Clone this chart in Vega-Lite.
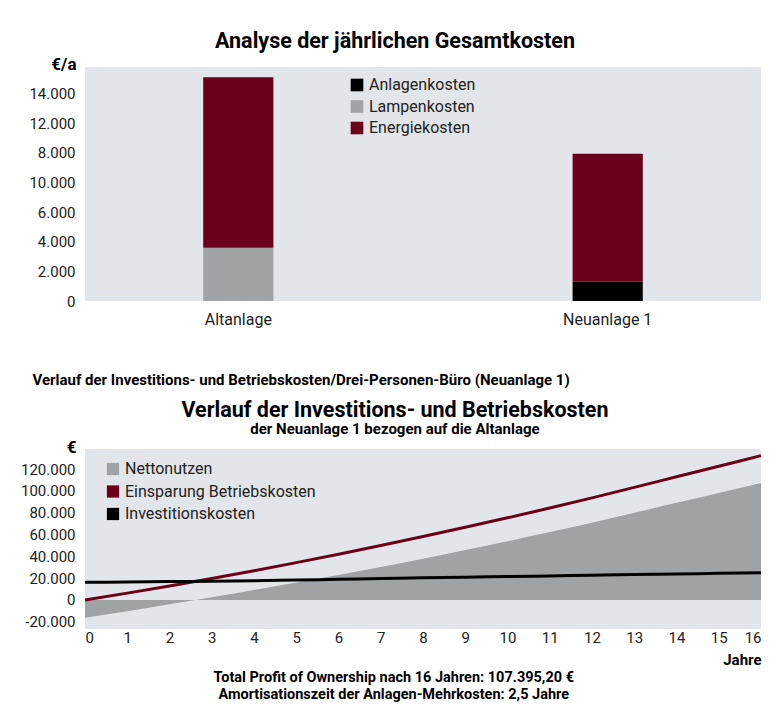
{
  "$schema": "https://vega.github.io/schema/vega-lite/v6.json",
  "background": "white",
  "padding": {"left": 20, "top": 30, "right": 14, "bottom": 4},
  "config": {
    "font": "Roboto",
    "locale": {"number": {"decimal": ",", "thousands": ".", "grouping": [3], "currency": ["", " €"], "minus": "-"}},
    "view": {"stroke": null, "fill": "#e2e5e9"},
    "axis": {"domain": false, "ticks": false, "grid": false, "labelFont": "Roboto", "labelColor": "#222", "labelFontSize": 15, "titleFont": "Roboto", "titleFontWeight": "bold", "titleColor": "#000"},
    "legend": {"labelFont": "Roboto", "labelColor": "#222", "labelFontSize": 16, "labelLimit": 400},
    "title": {"font": "Roboto", "color": "#000"}
  },
  "title": {
    "text": ["Total Profit of Ownership nach 16 Jahren: 107.395,20 €", "Amortisationszeit der Anlagen-Mehrkosten: 2,5 Jahre"],
    "orient": "bottom", "anchor": "middle", "fontSize": 14.5, "fontWeight": "bold", "lineHeight": 17, "offset": 4
  },
  "spacing": 12,
  "vconcat": [
    {
      "width": 676,
      "height": 234,
      "title": {"text": "Analyse der jährlichen Gesamtkosten", "fontSize": 21.5, "fontWeight": "bold", "anchor": "middle", "dx": -28, "offset": 3},
      "data": {"values": [
        {"anlage": "Altanlage", "kosten": "Lampenkosten", "wert": 3600},
        {"anlage": "Altanlage", "kosten": "Energiekosten", "wert": 11500},
        {"anlage": "Neuanlage 1", "kosten": "Anlagenkosten", "wert": 1300},
        {"anlage": "Neuanlage 1", "kosten": "Energiekosten", "wert": 8650}
      ]},
      "mark": {"type": "bar"},
      "encoding": {
        "x": {"field": "anlage", "type": "nominal", "sort": ["Altanlage", "Neuanlage 1"],
          "scale": {"paddingInner": 0.81, "paddingOuter": 0.32},
          "axis": {"labelAngle": 0, "labelFontSize": 16, "labelPadding": 10,
            "title": "Verlauf der Investitions- und Betriebskosten/Drei-Personen-Büro (Neuanlage 1)",
            "titleFontSize": 15, "titleAnchor": "start", "titleAlign": "left", "titleBaseline": "alphabetic", "titleX": -53, "titleY": 83}},
        "y": {"field": "wert", "type": "quantitative", "stack": "zero",
          "scale": {"domain": [0, 15800], "nice": false},
          "axis": {"values": [0, 2000, 4000, 6000, 8000, 10000, 12000, 14000], "format": ",d",
            "labelExpr": "datum.value == 8000 ? '10.000' : datum.value == 10000 ? '8.000' : datum.label",
            "labelPadding": 10, "title": "€/a", "titleAngle": 0, "titleAlign": "right", "titleBaseline": "alphabetic", "titleX": -9, "titleY": 2, "titleFontSize": 17}},
        "order": {"field": "wert", "type": "quantitative", "sort": "ascending"},
        "color": {"field": "kosten", "type": "nominal", "sort": ["Anlagenkosten", "Lampenkosten", "Energiekosten"],
          "scale": {"domain": ["Anlagenkosten", "Lampenkosten", "Energiekosten"], "range": ["#000000", "#a0a4a7", "#6b001a"]},
          "legend": {"title": null, "orient": "none", "legendX": 264, "legendY": 10, "symbolType": "square", "symbolSize": 160, "symbolStrokeWidth": 0, "labelOffset": 4, "rowPadding": 5.5}}
      }
    },
    {
      "width": 676,
      "height": 180,
      "title": {"text": "Verlauf der Investitions- und Betriebskosten", "subtitle": "der Neuanlage 1 bezogen auf die Altanlage",
        "fontSize": 21.5, "fontWeight": "bold", "subtitleFontSize": 15, "subtitleFontWeight": "bold", "subtitleColor": "#000", "subtitleFont": "Roboto", "subtitlePadding": 1,
        "anchor": "middle", "dx": -28, "offset": 1},
      "data": {"values": [
        {"jahr": 0, "reihe": "Nettonutzen", "wert": -16200},
        {"jahr": 1, "reihe": "Nettonutzen", "wert": -10250},
        {"jahr": 2, "reihe": "Nettonutzen", "wert": -4000},
        {"jahr": 3, "reihe": "Nettonutzen", "wert": 2550},
        {"jahr": 4, "reihe": "Nettonutzen", "wert": 9250},
        {"jahr": 5, "reihe": "Nettonutzen", "wert": 16000},
        {"jahr": 6, "reihe": "Nettonutzen", "wert": 23000},
        {"jahr": 7, "reihe": "Nettonutzen", "wert": 30300},
        {"jahr": 8, "reihe": "Nettonutzen", "wert": 37800},
        {"jahr": 9, "reihe": "Nettonutzen", "wert": 45800},
        {"jahr": 10, "reihe": "Nettonutzen", "wert": 53900},
        {"jahr": 11, "reihe": "Nettonutzen", "wert": 62300},
        {"jahr": 12, "reihe": "Nettonutzen", "wert": 70900},
        {"jahr": 13, "reihe": "Nettonutzen", "wert": 79950},
        {"jahr": 14, "reihe": "Nettonutzen", "wert": 89100},
        {"jahr": 15, "reihe": "Nettonutzen", "wert": 98250},
        {"jahr": 16, "reihe": "Nettonutzen", "wert": 107400},
        {"jahr": 0, "reihe": "Einsparung Betriebskosten", "wert": 0},
        {"jahr": 1, "reihe": "Einsparung Betriebskosten", "wert": 6300},
        {"jahr": 2, "reihe": "Einsparung Betriebskosten", "wert": 12900},
        {"jahr": 3, "reihe": "Einsparung Betriebskosten", "wert": 19800},
        {"jahr": 4, "reihe": "Einsparung Betriebskosten", "wert": 26900},
        {"jahr": 5, "reihe": "Einsparung Betriebskosten", "wert": 34300},
        {"jahr": 6, "reihe": "Einsparung Betriebskosten", "wert": 42000},
        {"jahr": 7, "reihe": "Einsparung Betriebskosten", "wert": 50000},
        {"jahr": 8, "reihe": "Einsparung Betriebskosten", "wert": 58200},
        {"jahr": 9, "reihe": "Einsparung Betriebskosten", "wert": 66700},
        {"jahr": 10, "reihe": "Einsparung Betriebskosten", "wert": 75400},
        {"jahr": 11, "reihe": "Einsparung Betriebskosten", "wert": 84400},
        {"jahr": 12, "reihe": "Einsparung Betriebskosten", "wert": 93700},
        {"jahr": 13, "reihe": "Einsparung Betriebskosten", "wert": 103300},
        {"jahr": 14, "reihe": "Einsparung Betriebskosten", "wert": 113000},
        {"jahr": 15, "reihe": "Einsparung Betriebskosten", "wert": 122700},
        {"jahr": 16, "reihe": "Einsparung Betriebskosten", "wert": 132400},
        {"jahr": 0, "reihe": "Investitionskosten", "wert": 16200},
        {"jahr": 1, "reihe": "Investitionskosten", "wert": 16550},
        {"jahr": 2, "reihe": "Investitionskosten", "wert": 16900},
        {"jahr": 3, "reihe": "Investitionskosten", "wert": 17250},
        {"jahr": 4, "reihe": "Investitionskosten", "wert": 17650},
        {"jahr": 5, "reihe": "Investitionskosten", "wert": 18300},
        {"jahr": 6, "reihe": "Investitionskosten", "wert": 19000},
        {"jahr": 7, "reihe": "Investitionskosten", "wert": 19700},
        {"jahr": 8, "reihe": "Investitionskosten", "wert": 20400},
        {"jahr": 9, "reihe": "Investitionskosten", "wert": 20900},
        {"jahr": 10, "reihe": "Investitionskosten", "wert": 21500},
        {"jahr": 11, "reihe": "Investitionskosten", "wert": 22100},
        {"jahr": 12, "reihe": "Investitionskosten", "wert": 22800},
        {"jahr": 13, "reihe": "Investitionskosten", "wert": 23350},
        {"jahr": 14, "reihe": "Investitionskosten", "wert": 23900},
        {"jahr": 15, "reihe": "Investitionskosten", "wert": 24450},
        {"jahr": 16, "reihe": "Investitionskosten", "wert": 25000}
      ]},
      "encoding": {
        "x": {"field": "jahr", "type": "quantitative", "scale": {"domain": [0, 16], "nice": false},
          "axis": {"values": [0, 1, 2, 3, 4, 5, 6, 7, 8, 9, 10, 11, 12, 13, 14, 15, 16], "labelFlush": true, "labelPadding": 1,
            "title": "Jahre", "titleAnchor": "end", "titleAlign": "right", "titleBaseline": "alphabetic", "titleX": 676, "titleY": 35, "titleFontSize": 15}},
        "y": {"field": "wert", "type": "quantitative", "scale": {"domain": [-26600, 138500], "nice": false, "zero": false},
          "axis": {"values": [-20000, 0, 20000, 40000, 60000, 80000, 100000, 120000], "format": ",d", "labelPadding": 10,
            "title": "€", "titleAngle": 0, "titleAlign": "right", "titleBaseline": "alphabetic", "titleX": -9, "titleY": 3, "titleFontSize": 17}}
      },
      "layer": [
        {
          "transform": [{"filter": "datum.reihe == 'Nettonutzen'"}],
          "mark": {"type": "area", "interpolate": "monotone"},
          "encoding": {
            "fill": {"field": "reihe", "type": "nominal",
              "scale": {"domain": ["Nettonutzen", "Einsparung Betriebskosten", "Investitionskosten"], "range": ["#9fa3a6", "#6b001a", "#000000"]},
              "legend": {"title": null, "orient": "none", "legendX": 20, "legendY": 394, "symbolType": "square", "symbolSize": 150, "symbolStrokeWidth": 0, "labelOffset": 4, "rowPadding": 6.5}}
          }
        },
        {
          "transform": [{"filter": "datum.reihe != 'Nettonutzen'"}],
          "mark": {"type": "line", "interpolate": "monotone", "strokeWidth": 3},
          "encoding": {
            "stroke": {"field": "reihe", "type": "nominal",
              "scale": {"domain": ["Nettonutzen", "Einsparung Betriebskosten", "Investitionskosten"], "range": ["#9fa3a6", "#6b001a", "#000000"]},
              "legend": null}
          }
        }
      ]
    }
  ]
}
